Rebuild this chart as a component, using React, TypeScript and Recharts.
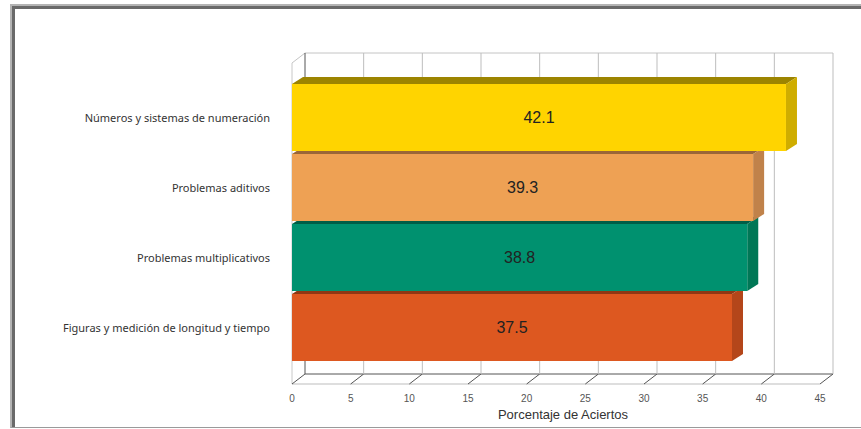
import React from 'react';
import { BarChart, Bar, XAxis, YAxis, LabelList, CartesianGrid } from 'recharts';

// categories top to bottom, as in the picture
const categories = [
  'Números y sistemas de numeración',
  'Problemas aditivos',
  'Problemas multiplicativos',
  'Figuras y medición de longitud y tiempo',
];
const aciertos = [42.1, 39.3, 38.8, 37.5];
const xTicks = [0, 5, 10, 15, 20, 25, 30, 35, 40, 45];

const frontColors = ['#FFD400', '#EEA154', '#00916F', '#DD5820'];
const topColors = ['#9C8400', '#9A6638', '#005E46', '#8E3814'];
const sideColors = ['#CFAD00', '#C0824A', '#007756', '#B4461A'];

// bottom bar first so upper bars paint over the hidden top faces
const data = categories
  .map((category, i) => ({ category, value: aciertos[i] }))
  .reverse();

// layout of the 3D box
const FRONT_LEFT = 292;
const FRONT_RIGHT = 820;
const FRONT_TOP = 63;
const FLOOR_Y = 384;
const DEPTH_X = 13;
const DEPTH_Y = 10;
const BACK_TOP = FRONT_TOP - DEPTH_Y;
const BACK_BOTTOM = FLOOR_Y - DEPTH_Y;
const BAR_DX = 11;
const BAR_DY = 7;

const Bar3D = (props: any) => {
  const { x, y, width, height, payload } = props;
  const i = categories.indexOf(payload.category);
  return (
    <g>
      <polygon
        points={`${x},${y} ${x + BAR_DX},${y - BAR_DY} ${x + width + BAR_DX},${y - BAR_DY} ${x + width},${y}`}
        fill={topColors[i]}
      />
      <polygon
        points={`${x + width},${y} ${x + width + BAR_DX},${y - BAR_DY} ${x + width + BAR_DX},${y + height - BAR_DY} ${x + width},${y + height}`}
        fill={sideColors[i]}
      />
      <rect x={x} y={y} width={width} height={height} fill={frontColors[i]} />
    </g>
  );
};

// one back-wall gridline per x tick, plus the floor diagonal; walls drawn with the first one
const WallLine = (props: any) => {
  const { x1, index } = props;
  const x = x1;
  return (
    <g key={`wall-${index}`}>
      {index === 0 && (
        <g>
          <line x1={FRONT_LEFT + DEPTH_X} y1={BACK_TOP} x2={FRONT_RIGHT + DEPTH_X} y2={BACK_TOP} stroke="#c4c4c4" />
          <line x1={FRONT_LEFT} y1={FRONT_TOP} x2={FRONT_LEFT + DEPTH_X} y2={BACK_TOP} stroke="#c4c4c4" />
          <line x1={FRONT_LEFT} y1={FRONT_TOP} x2={FRONT_LEFT} y2={FLOOR_Y} stroke="#c8c8c8" />
          <line x1={FRONT_LEFT} y1={FLOOR_Y} x2={FRONT_RIGHT} y2={FLOOR_Y} stroke="#bdbdbd" />
          <line x1={FRONT_LEFT + DEPTH_X} y1={BACK_BOTTOM} x2={FRONT_RIGHT + DEPTH_X} y2={BACK_BOTTOM} stroke="#555" />
        </g>
      )}
      <line x1={x} y1={FLOOR_Y} x2={x + DEPTH_X} y2={BACK_BOTTOM} stroke="#555" />
      <line x1={x + DEPTH_X} y1={BACK_BOTTOM} x2={x + DEPTH_X} y2={BACK_TOP} stroke={index === 0 ? '#555' : '#bdbdbd'} />
    </g>
  );
};

const XTick = (props: any) => {
  const { x, payload } = props;
  return (
    <text
      x={x}
      y={398}
      textAnchor="middle"
      dominantBaseline="central"
      fontFamily="Liberation Sans, Arial, sans-serif"
      fontSize={10}
      fill="#555"
    >
      {payload.value}
    </text>
  );
};

const YTick = (props: any) => {
  const { y, payload } = props;
  return (
    <text
      x={270}
      y={y}
      textAnchor="end"
      dominantBaseline="central"
      fontFamily="Noto Sans, sans-serif"
      fontSize={11}
      fill="#333"
    >
      {payload.value}
    </text>
  );
};

export default function App() {
  return (
    <div style={{ position: 'absolute', left: 0, top: 0, width: 861, height: 429, overflow: 'hidden', background: '#fff' }}>
      {/* outer frame */}
      <div
        style={{
          position: 'absolute', left: 10, top: 4, width: 900, height: 421,
          borderTop: '2px solid #b4b4b4', borderLeft: '2px solid #b4b4b4', borderBottom: '1px solid #9a9a9a',
        }}
      >
        <div style={{ width: '100%', height: '100%', borderTop: '3px solid #6a6a6a', borderLeft: '3px solid #6a6a6a', boxSizing: 'border-box' }} />
      </div>
      <div style={{ position: 'absolute', left: 0, top: 0 }}>
        <BarChart
          width={861}
          height={429}
          data={data}
          layout="vertical"
          margin={{ top: 82, right: 861 - FRONT_RIGHT, bottom: 0, left: 12 }}
        >
          <CartesianGrid
            horizontal={false}
            vertical={(p: any) => <WallLine {...p} />}
            verticalPoints={undefined}
          />
          <XAxis
            type="number"
            domain={[0, 45]}
            ticks={xTicks}
            height={67}
            axisLine={false}
            tickLine={false}
            interval={0}
            tick={(p: any) => <XTick {...p} />}
            label={{
              value: 'Porcentaje de Aciertos',
              position: 'insideBottom',
              offset: 10,
              dx: 7,
              fill: '#333',
              fontSize: 13,
              fontFamily: 'Liberation Sans, Arial, sans-serif',
            }}
          />
          <YAxis
            type="category"
            dataKey="category"
            reversed
            width={280}
            axisLine={false}
            tickLine={false}
            interval={0}
            tick={(p: any) => <YTick {...p} />}
          />
          <Bar dataKey="value" barSize={67} shape={(p: any) => <Bar3D {...p} />} isAnimationActive={false}>
            <LabelList
              dataKey="value"
              position="center"
              fill="#222"
              fontSize={16}
              fontFamily="Liberation Sans, Arial, sans-serif"
              formatter={(v: any) => Number(v).toFixed(1)}
            />
          </Bar>
        </BarChart>
      </div>
    </div>
  );
}
